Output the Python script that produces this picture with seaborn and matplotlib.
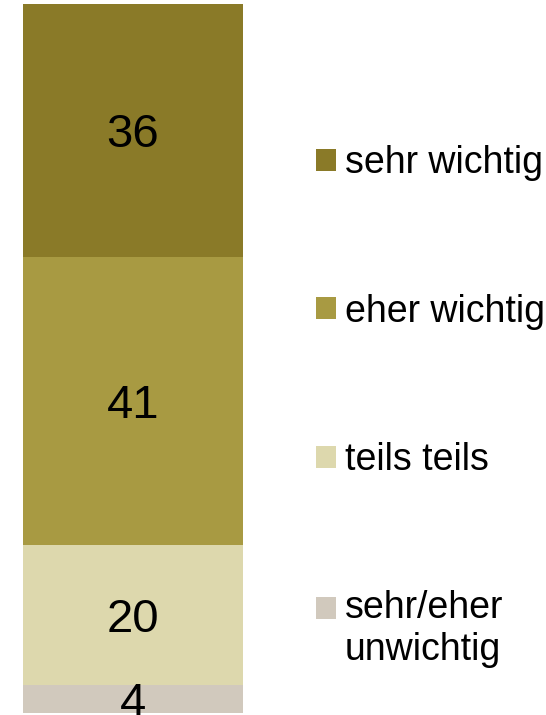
import matplotlib
matplotlib.use("Agg")
import matplotlib.pyplot as plt
import seaborn as sns

# Daten (von unten nach oben gestapelt)
kategorien = ["sehr/eher\nunwichtig", "teils teils", "eher wichtig", "sehr wichtig"]
werte = [4, 20, 41, 36]
farben = ["#d1c9bd", "#ddd8ad", "#a89a42", "#8a7a28"]
gruppe = ["Gesamt"]

sns.set_style("white")
plt.rcParams["font.family"] = ["Liberation Sans", "DejaVu Sans"]

fig = plt.figure(figsize=(5.46, 7.15), dpi=100, facecolor="white")
ax = fig.add_axes([23 / 546, 2 / 715, 220 / 546, 709 / 715])

unten = 0
for kat, wert, farbe in zip(kategorien, werte, farben):
    sns.barplot(x=gruppe, y=[wert], bottom=unten, color=farbe, width=1,
                label=kat, linewidth=0, saturation=1, legend=False, ax=ax)
    ax.text(0, unten + wert / 2, f"{wert}", ha="center", va="center_baseline",
            fontsize=34, color="black", clip_on=False)
    unten += wert

ax.set_xlim(-0.5, 0.5)
ax.set_ylim(0, sum(werte))
ax.axis("off")
if ax.get_legend() is not None:
    ax.get_legend().remove()

# Legende in umgekehrter Reihenfolge
handles, labels = ax.get_legend_handles_labels()
leg = fig.legend(handles[::-1], labels[::-1], loc="upper left",
                 bbox_to_anchor=(316 / 546, 1 - 145 / 715), frameon=False,
                 fontsize=27, handlelength=0.52, handleheight=0.52,
                 handletextpad=0.25, labelspacing=3.0,
                 borderpad=0, borderaxespad=0, labelcolor="black")

# Marker des zweizeiligen Eintrags an der ersten Zeile ausrichten
h = leg.legend_handles[-1]
h.set_y(h.get_y() + 16)

fig.savefig("out.png", dpi=100, facecolor="white")
